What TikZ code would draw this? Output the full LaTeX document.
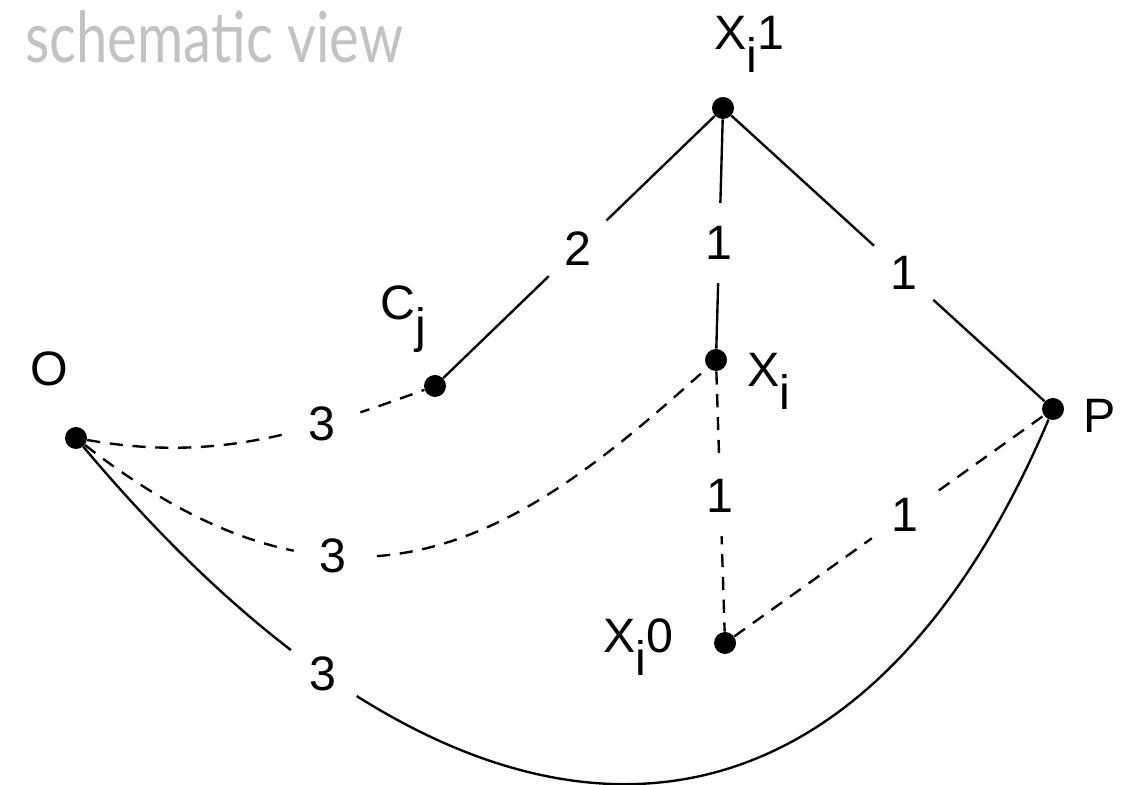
\documentclass[tikz,border=0pt]{standalone}
\usepackage{fontspec}
\setmainfont{Liberation Sans}
\newfontfamily\titlefont[FakeStretch=0.8]{Lato}
\usetikzlibrary{positioning}
\newcommand{\lowsub}[1]{\raisebox{-0.46em}{#1}}

\begin{document}
\begin{tikzpicture}[
    every node/.style={font=\fontsize{27.5}{32}\selectfont},
    dot/.style={circle, fill=black, inner sep=0pt, minimum size=0.44cm},
    vlabel/.style={anchor=base west, inner sep=0pt},
    wlabel/.style={circle, fill=white, inner sep=0pt, minimum size=1.6cm},
    solidline/.style={line width=1.35pt},
    dashline/.style={line width=1.35pt, dash pattern=on 7.5pt off 5.5pt}
]
\useasboundingbox (0,0) rectangle (22.64,15.68);
\node[vlabel, text=black!24, font=\titlefont\fontsize{40}{48}\selectfont] (title) at (0.50,14.42) {schematic view};
% vertices
\node[dot] (xi1) at (14.46,13.52) {};
\node[dot] (cj) at (8.70,7.96) {};
\node[dot] (xi) at (14.32,8.48) {};
\node[dot] (o) at (1.52,6.92) {};
\node[dot] (p) at (21.06,7.50) {};
\node[dot] (xi0) at (14.50,2.82) {};
% vertex names
\node[vlabel] (xi1t) at (14.28,14.68) {X\lowsub{i}1};
\node[vlabel] (cjt) at (7.60,9.28) {C\lowsub{j}};
\node[vlabel] (xit) at (14.94,7.94) {X\lowsub{i}};
\node[vlabel] (xi0t) at (12.06,2.62) {X\lowsub{i}0};
\node[vlabel] (pt) at (21.66,7.02) {P};
\node[vlabel] (ot) at (0.60,7.96) {O};
% weighted edges
\draw[solidline] (cj) -- node[wlabel, pos=0.495] (w2) {2} (xi1);
\draw[solidline] (xi1) -- node[wlabel, pos=0.54] (w1a) {1} (xi);
\draw[solidline] (xi1) -- node[wlabel, pos=0.55] (w1b) {1} (p);
\draw[dashline] (xi) -- node[wlabel, pos=0.48] (w1c) {1} (xi0);
\draw[dashline] (xi0) -- node[wlabel, pos=0.55] (w1d) {1} (p);
\draw[dashline] (o) .. controls +(-10:2.8) and +(200:2.8) .. node[wlabel, pos=0.7] (w3a) {3} (cj);
\draw[dashline] (o) .. controls +(-38:7.2) and +(222:5) .. node[wlabel, pos=0.34] (w3b) {3} (xi);
\draw[solidline] (o) .. controls +(-50:12.2) and +(247:10.6) .. node[wlabel, pos=0.21] (w3c) {3} (p);
\end{tikzpicture}
\end{document}
